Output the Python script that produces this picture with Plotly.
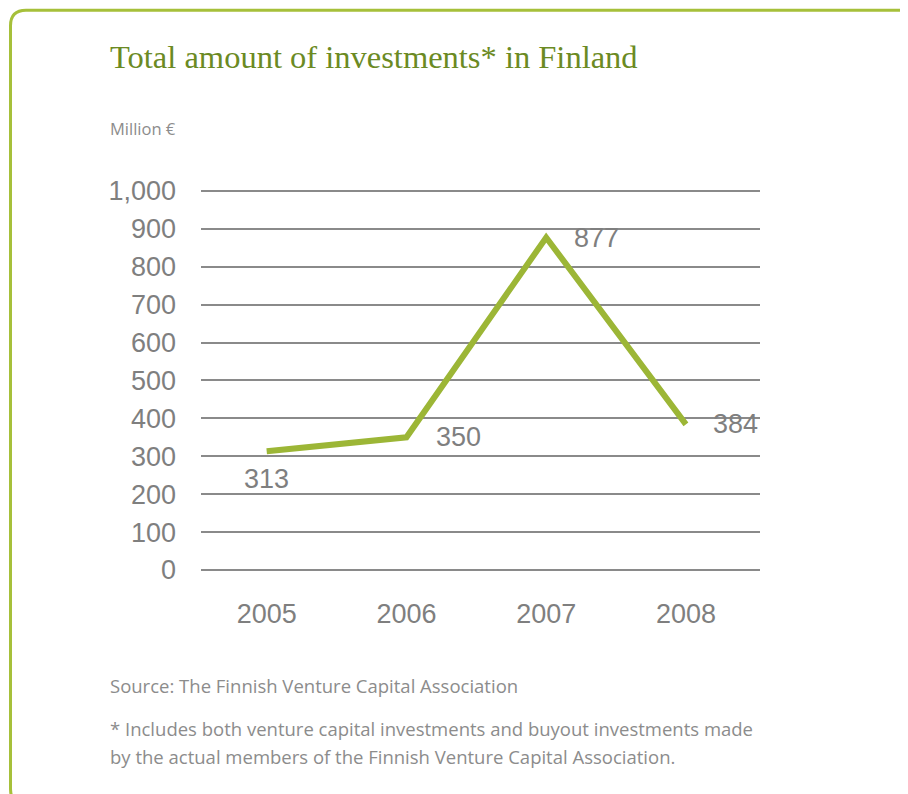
import plotly.graph_objects as go

years = ["2005", "2006", "2007", "2008"]
investments = [313, 350, 877, 384]
label_xshift = [0, 52, 50, 50]
label_yshift = [-28, 0, 0, 0]

W, H = 908, 794
OFF = 8  # page body margin
YMAX = 1005
# plot area in page pixels (0 at y=570, 1000 at y=191)
PL, PR, PB = 201, 760, 570
PX_PER_UNIT = (570 - 191) / 1000
PT = PB - YMAX * PX_PER_UNIT
L, R, T, B = PL - OFF, PR - OFF, PT - OFF, PB - OFF


def px(x):
    return (x - PL) / (PR - PL)


def py(y):
    return (PB - y) / (PB - PT)


GREEN = "#9cb636"
GRAY_TXT = "#7f7f7f"
GRID = "#8a8a8a"
NOTE = "#8c8c8c"

fig = go.Figure()
fig.add_trace(go.Scatter(
    x=years, y=investments, mode="lines",
    line=dict(color=GREEN, width=6, shape="linear"),
    hoverinfo="skip", showlegend=False, cliponaxis=False,
))

annotations = []
for i, (v, dx, dy) in enumerate(zip(investments, label_xshift, label_yshift)):
    annotations.append(dict(
        x=i, y=v, xref="x", yref="y", text=str(v), showarrow=False,
        xshift=dx, yshift=dy, xanchor="center", yanchor="middle",
        font=dict(family="Liberation Sans, Arial", size=27, color=GRAY_TXT),
    ))

annotations += [
    dict(x=px(108), y=py(57), xref="paper", yref="paper", xanchor="left", yanchor="middle",
         text="Total amount of investments* in Finland", showarrow=False,
         font=dict(family="Liberation Serif, serif", size=32.5, color="#6b8a23")),
    dict(x=px(108), y=py(129), xref="paper", yref="paper", xanchor="left", yanchor="middle",
         text="Million €", showarrow=False,
         font=dict(family="Open Sans, sans-serif", size=16.5, color=NOTE)),
    dict(x=px(108), y=py(685), xref="paper", yref="paper", xanchor="left", yanchor="middle",
         text="Source: The Finnish Venture Capital Association", showarrow=False,
         font=dict(family="Open Sans, sans-serif", size=18.5, color=NOTE)),
    dict(x=px(108), y=py(728), xref="paper", yref="paper", xanchor="left", yanchor="middle",
         text="* Includes both venture capital investments and buyout investments made",
         showarrow=False, font=dict(family="Open Sans, sans-serif", size=18.5, color=NOTE)),
    dict(x=px(108), y=py(756), xref="paper", yref="paper", xanchor="left", yanchor="middle",
         text="by the actual members of the Finnish Venture Capital Association.",
         showarrow=False, font=dict(family="Open Sans, sans-serif", size=18.5, color=NOTE)),
]

# rounded frame
path = (f"M {px(26)},{py(805)} Q {px(10.5)},{py(805)} {px(10.5)},{py(789)} "
        f"L {px(10.5)},{py(26)} Q {px(10.5)},{py(10.5)} {px(26)},{py(10.5)} "
        f"L {px(930)},{py(10.5)}")

fig.update_layout(
    width=W, height=H,
    margin=dict(l=L, r=W - R, t=T, b=H - B, pad=0),
    paper_bgcolor="white", plot_bgcolor="white",
    annotations=annotations,
    shapes=[dict(type="path", path=path, xref="paper", yref="paper",
                 line=dict(color="#a6c03a", width=3), layer="above")],
    xaxis=dict(
        type="category", range=[-0.47, 3.53], showgrid=False, zeroline=False,
        showline=False, ticks="", ticklabelstandoff=25,
        tickfont=dict(family="Liberation Sans, Arial", size=27, color=GRAY_TXT),
        fixedrange=True,
    ),
    yaxis=dict(
        range=[0, YMAX], tickvals=list(range(0, 1001, 100)), tickformat=",d",
        showgrid=True, gridcolor=GRID, gridwidth=2, zeroline=True,
        zerolinecolor=GRID, zerolinewidth=2, showline=False, ticks="",
        ticklabelstandoff=24,
        tickfont=dict(family="Liberation Sans, Arial", size=27, color=GRAY_TXT),
        fixedrange=True,
    ),
)

fig.write_html("out.html")
